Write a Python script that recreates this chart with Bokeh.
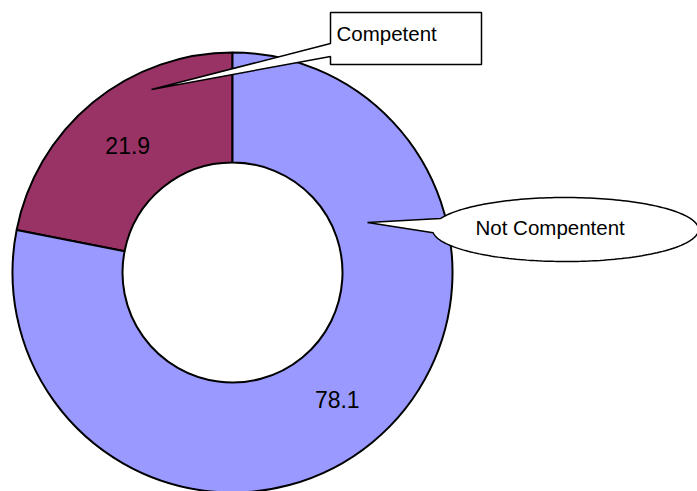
import numpy as np
from bokeh.plotting import figure
from bokeh.models import Range1d
from bokeh.embed import file_html
from bokeh.resources import INLINE
from bokeh.core.properties import value

# ---- data ----
categories = ["Competent", "Not Compentent"]
values = [21.9, 78.1]
labels = ["21.9", "78.1"]
colors = ["#993366", "#9999FF"]

# ---- layout ----
W, H = 697, 491
FONT = "Liberation Sans"

p = figure(width=W, height=H, x_range=Range1d(0, W), y_range=Range1d(0, H),
           output_backend="svg", toolbar_location=None, min_border=0)
p.axis.visible = False
p.grid.visible = False
p.outline_line_color = None
p.background_fill_color = "white"
p.border_fill_color = "white"

def Y(py):
    return H - py

cx, cy = 232, Y(272)
r_in, r_out = 110, 220

frac = np.array(values) / np.sum(values)
ends = np.pi / 2 + 2 * np.pi * np.cumsum(frac)
starts = ends - 2 * np.pi * frac

p.annular_wedge(x=[cx] * len(values), y=[cy] * len(values),
                inner_radius=r_in, outer_radius=r_out,
                start_angle=list(starts), end_angle=list(ends),
                fill_color=colors, line_color="black", line_width=2)

mid = (starts + ends) / 2
rr = (r_in + r_out) / 2
lx = cx + rr * np.cos(mid)
ly = cy + rr * np.sin(mid)
p.text(x=list(lx), y=list(ly), text=labels, text_align="center",
       text_baseline="middle", text_font=value(FONT), text_font_size="23px",
       text_color="black")

# ---- callout 1: rectangle with pointer (Competent) ----
rx0, ry0, rx1, ry1 = 330, 12, 481, 64
tip1 = (151, 89)
xs1 = [rx0, rx1, rx1, rx0, rx0, tip1[0], rx0]
ys1 = [ry0, ry0, ry1, ry1, 56, tip1[1], 43]
p.patch([x for x in xs1], [Y(y) for y in ys1], fill_color="white",
        line_color="black", line_width=1.5)
p.text(x=[336], y=[Y(33)], text=[categories[0]], text_align="left",
       text_baseline="alphabetic", text_font=value(FONT),
       text_font_size="20.5px", text_color="black")

# ---- callout 2: ellipse with pointer (Not Compentent) ----
ecx, ecy, erx, ery = 565, Y(229), 133, 32
t1, t2 = np.deg2rad(160), np.deg2rad(186)
ts = np.linspace(t2, t1 + 2 * np.pi, 200)
ex = list(ecx + erx * np.cos(ts))
ey = list(ecy + ery * np.sin(ts))
tip2 = (367, 222)
ex.append(tip2[0])
ey.append(Y(tip2[1]))
p.patch(ex, ey, fill_color="white", line_color="black", line_width=1.5)
p.text(x=[475], y=[Y(227)], text=[categories[1]], text_align="left",
       text_baseline="alphabetic", text_font=value(FONT),
       text_font_size="20.5px", text_color="black")

open("out.html", "w").write(file_html(p, INLINE))
